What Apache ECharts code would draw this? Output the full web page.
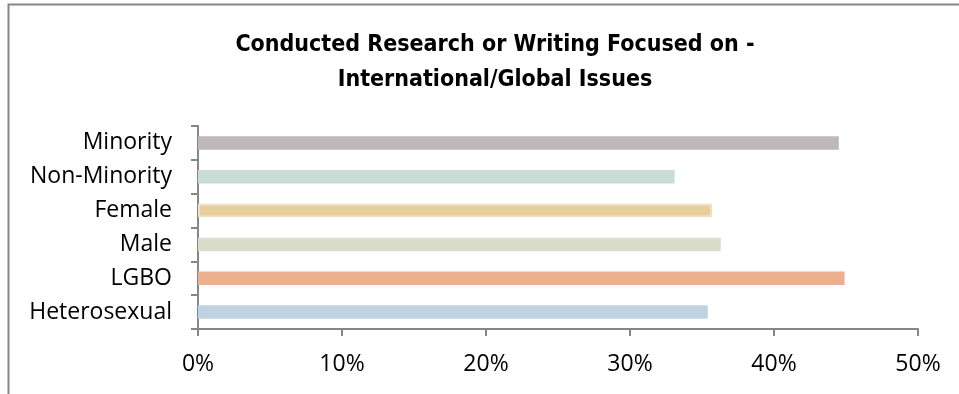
<!DOCTYPE html>
<html>
<head>
<meta charset="utf-8">
<script src="https://cdn.jsdelivr.net/npm/echarts@6/dist/echarts.min.js"></script>
<style>
  html, body { margin: 0; padding: 0; background: #fff; }
  #chart { width: 959px; height: 394px; }
</style>
</head>
<body>
<div id="chart"></div>
<script>
// Groups listed top to bottom
const categories = ['Minority', 'Non-Minority', 'Female', 'Male', 'LGBO', 'Heterosexual'];
// Share of respondents (%)
const values = [44.5, 33.1, 35.7, 36.3, 44.9, 35.4];
const barColors = ['#BFB8B8', '#C9DDD7', '#E8CF9A', '#DADDCC', '#ECB08E', '#BFD3E3'];
const xTicks = [0, 10, 20, 30, 40, 50];

const labelFont = '"Open Sans", sans-serif';

const chart = echarts.init(document.getElementById('chart'), null, { renderer: 'canvas' });

chart.setOption({
  backgroundColor: '#fff',
  animation: false,
  title: {
    text: 'Conducted Research or Writing Focused on -\nInternational/Global Issues',
    left: 490,
    textAlign: 'center',
    top: 23,
    textStyle: {
      fontFamily: '"DejaVu Sans Condensed", "Open Sans", sans-serif',
      fontWeight: 'bold',
      fontSize: 23,
      lineHeight: 35,
      color: '#000'
    }
  },
  graphic: [{
    type: 'rect',
    shape: { x: 8.5, y: 4.5, width: 1200, height: 800 },
    style: { fill: 'none', stroke: '#868686', lineWidth: 2 },
    silent: true
  }],
  grid: { left: 198, right: 41, top: 126, bottom: 65, containLabel: false },
  xAxis: {
    type: 'value',
    min: xTicks[0],
    max: xTicks[xTicks.length - 1],
    interval: 10,
    axisLine: { show: true, lineStyle: { color: '#868686', width: 2 } },
    axisTick: { show: true, length: 7, lineStyle: { color: '#868686', width: 2 } },
    splitLine: { show: false },
    axisLabel: {
      formatter: v => v + '%',
      margin: 24,
      fontFamily: labelFont,
      fontSize: 23,
      color: '#000'
    }
  },
  yAxis: {
    type: 'category',
    data: categories,
    inverse: true,
    axisLine: { show: true, lineStyle: { color: '#868686', width: 2 } },
    axisTick: { show: true, length: 7, lineStyle: { color: '#868686', width: 2 } },
    axisLabel: {
      margin: 26,
      padding: [4, 0, 0, 0],
      fontFamily: labelFont,
      fontSize: 23,
      color: '#000'
    }
  },
  series: [{
    type: 'bar',
    barWidth: '40%',
    data: values.map((v, i) => ({
      value: v,
      itemStyle: i === 2
        ? { color: barColors[i], borderColor: '#EFE0C7', borderWidth: 2 }
        : { color: barColors[i] }
    }))
  }]
});
</script>
</body>
</html>
